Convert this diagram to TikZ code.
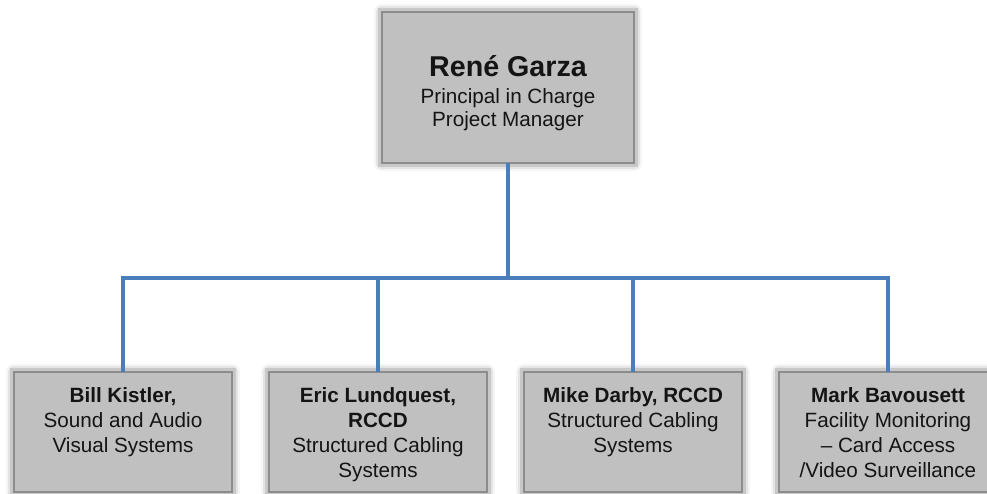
\documentclass[tikz,border=0pt]{standalone}
\usepackage{fontspec}
\setmainfont{Liberation Sans}
\usetikzlibrary{positioning}

\definecolor{cardfill}{RGB}{192,192,192}
\definecolor{cardedge}{RGB}{140,140,140}
\definecolor{linkblue}{RGB}{74,126,187}
\definecolor{inktext}{RGB}{20,20,20}

% text block of a card: height, width, line skip, first baseline, lines
\newcommand{\cardtext}[5]{\parbox[t][#1][t]{#2}{\fontsize{15.5}{#3}\selectfont\centering\rule{0pt}{#4}#5}}
\newcommand{\titlefont}{\fontsize{21.5}{24}\bfseries\selectfont}

\tikzset{
    card/.style={draw=cardedge, line width=2.2pt, fill=cardfill, text=inktext,
        inner sep=0pt, outer sep=0pt, anchor=north,
        preaction={draw=black, opacity=0.04, line width=12pt, line join=round},
        preaction={draw=black, opacity=0.07, line width=8.5pt, line join=round},
        preaction={draw=black, opacity=0.12, line width=5.5pt}},
    link/.style={draw=linkblue, line width=2.4pt}
}

\begin{document}
\begin{tikzpicture}[x=0.75pt, y=-0.75pt]
    \useasboundingbox (0,0) rectangle (987,493);

    \node[card] (rene) at (508,12) {\cardtext{113.25pt}{189pt}{17.25pt}{48pt}{{\titlefont Ren\'e Garza}\\[3pt] Principal in Charge\\ Project Manager}};

    \node[card] (bill) at (123,372) {\cardtext{90pt}{163.5pt}{18.75pt}{22.9pt}{\textbf{Bill Kistler,}\\ Sound and Audio\\ Visual Systems}};
    \node[card, right=27.75pt of bill] (eric) {\cardtext{90pt}{163.5pt}{18.75pt}{22.9pt}{\textbf{Eric Lundquest,}\\ \textbf{RCCD}\\ Structured Cabling\\ Systems}};
    \node[card, right=27.75pt of eric] (mike) {\cardtext{90pt}{163.5pt}{18.75pt}{22.9pt}{\textbf{Mike Darby, RCCD}\\ Structured Cabling\\ Systems}};
    \node[card, right=27.75pt of mike] (mark) {\cardtext{90pt}{163.5pt}{18.75pt}{22.9pt}{\textbf{Mark Bavousett}\\ Facility Monitoring\\ \textendash{} Card Access\\ /Video Surveillance}};

    \coordinate (hub) at (rene.south |- 0,278);
    \draw[link] (rene.south) -- (hub);
    \draw[link] (bill.north) |- (hub) -| (mark.north);
    \draw[link] (eric.north) -- (eric.north |- hub);
    \draw[link] (mike.north) -- (mike.north |- hub);
\end{tikzpicture}
\end{document}
